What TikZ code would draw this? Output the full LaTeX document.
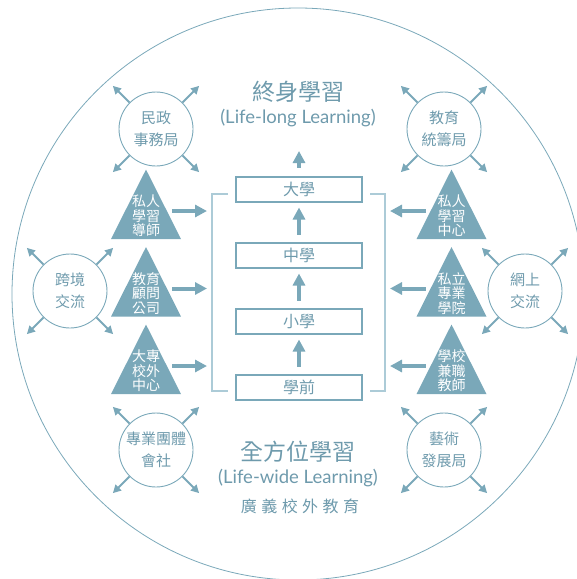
\documentclass[tikz,border=0pt]{standalone}
\usepackage{fontspec}
\setmainfont{Noto Sans CJK TC}
\newfontfamily\latinfont{Lato}
\newfontfamily\spacedfont[LetterSpace=28]{Noto Sans CJK TC}
\usetikzlibrary{arrows.meta,shapes.geometric,positioning}
\definecolor{sea}{RGB}{122,168,185}
\definecolor{ink}{RGB}{110,154,172}
\definecolor{pale}{RGB}{172,203,215}

\begin{document}
\begin{tikzpicture}[x=1pt,y=-1pt,
  agency/.style={circle,draw=sea,line width=0.9pt,minimum size=74pt,inner sep=0pt,
    align=center,text=ink,font=\fontsize{15}{22}\selectfont},
  stage/.style={draw=sea,line width=2pt,minimum width=126pt,minimum height=25pt,
    inner sep=0pt,text=ink,font=\fontsize{16}{16}\selectfont},
  provider/.style={isosceles triangle,shape border rotate=90,isosceles triangle stretches,
    minimum width=70pt,minimum height=69.5pt,fill=sea,inner sep=0pt,anchor=apex},
  tag/.style={align=center,text=white,inner sep=0pt,font=\fontsize{14}{14.5}\selectfont},
  push/.style={draw=sea,line width=4pt,-{Triangle[width=12pt,length=12pt]}},
  spoke/.style={draw=sea,line width=2pt,-{Triangle[width=8pt,length=8pt]}},
  title/.style={text=ink,font=\fontsize{23}{23}\selectfont},
  eng/.style={text=ink,font=\latinfont\fontsize{18.5}{18.5}\selectfont}]
\useasboundingbox (0,0) rectangle (577,579);

% outer ring
\draw[sea,line width=0.8pt] (298,294) circle[radius=286];

% school stages
\node[stage] (pre) at (299,387) {學前};
\node[stage,above=39pt of pre] (pri) {小學};
\node[stage,above=39pt of pri] (sec) {中學};
\node[stage,above=39pt of sec] (uni) {大學};
\foreach \a/\b in {pre/pri,pri/sec,sec/uni}
  \draw[push,shorten <=7pt,shorten >=5pt] (\a) -- (\b);
\coordinate (top) at (299,151);
\draw[push,shorten <=8pt] (uni) -- (top);

% brackets
\draw[pale,line width=1.2pt] (228,194) -| (212,391) -- (228,391);
\draw[pale,line width=1.2pt] (370,194) -| (385,391) -- (370,391);

% titles
\node[title] (ll) at (298,92) {終身學習};
\node[eng] (lleng) at (298,118) {(Life-long Learning)};
\node[title] (lw) at (298,452) {全方位學習};
\node[eng] (lweng) at (298,478) {(Life-wide Learning)};
\node[text=ink,font=\spacedfont\fontsize{16}{16}\selectfont] (extra) at (300,506) {廣義校外教育};

% agencies
\foreach \n/\x/\y/\txt in {hab/156/129/{民政\\事務局}, edb/444/129/{教育\\統籌局},
    xb/70/291/{跨境\\交流}, ol/525/291/{網上\\交流},
    pb/156/450/{專業團體\\會社}, adc/444/450/{藝術\\發展局}}{
  \node[agency] (\n) at (\x,\y) {\txt};
  \foreach \a in {45,135,225,315}{
    \path (\n.center) ++(\a:61pt) coordinate (\n-\a);
    \draw[spoke] (\n.\a) -- (\n-\a);
  }
}

% providers
\foreach \n/\x/\y/\txt in {pt/146/169/{私人\\學習\\導師}, ec/146/246.5/{教育\\顧問\\公司},
    cc/146/324/{大專\\校外\\中心}, plc/451.5/169/{私人\\學習\\中心},
    pc/451.5/246.5/{私立\\專業\\學院}, st/451.5/324/{學校\\兼職\\教師}}{
  \node[provider] (\n) at (\x,\y) {};
  \node[tag] (\n-txt) at ([yshift=-47pt]\n.apex) {\txt};
}
\coordinate (lb) at (207,0);
\coordinate (rb) at (390,0);
\foreach \n in {pt,ec,cc}{
  \coordinate (\n-out) at ([shift={(26pt,-42pt)}]\n.apex);
  \draw[push] (\n-out) -- (\n-out -| lb);
}
\foreach \n in {plc,pc,st}{
  \coordinate (\n-out) at ([shift={(-26pt,-42pt)}]\n.apex);
  \draw[push] (\n-out) -- (\n-out -| rb);
}
\end{tikzpicture}
\end{document}
